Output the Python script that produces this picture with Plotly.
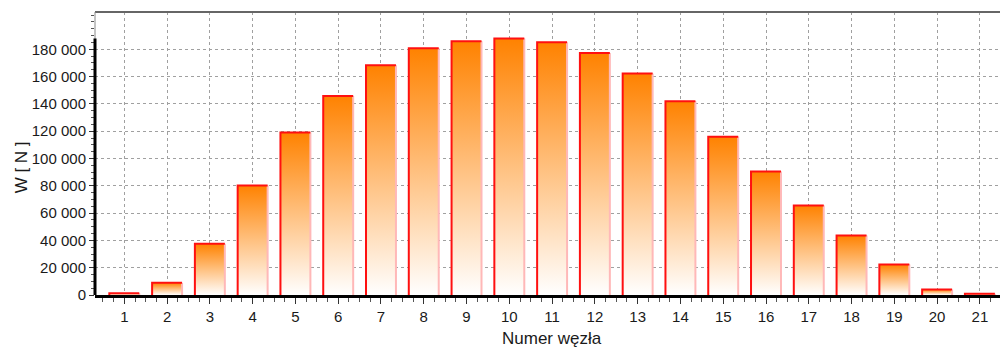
import plotly.graph_objects as go

# Node numbers and vertical load per node
nodes = list(range(1, 22))
loads = [1300, 8900, 37500, 80300, 119100, 145800, 168300, 180700, 185900, 187900,
         185100, 177300, 162200, 141900, 116000, 90500, 65600, 43600, 22400, 4000, 900]

y_ticks = [0, 20000, 40000, 60000, 80000, 100000, 120000, 140000, 160000, 180000]

FONT = "Liberation Sans, Arial, sans-serif"
HALF = 0.35          # half bar width in category units
TOP_COLOR = "#FF8200"
EDGE_RED = "#FF1010"
EDGE_PINK = "#FFB8B8"
TEXT = "#1a1a1a"

fig = go.Figure()

# gradient-filled bar bodies (orange at top fading to white at the base)
for n, v in zip(nodes, loads):
    fig.add_trace(go.Scatter(
        x=[n - HALF, n - HALF, n + HALF, n + HALF, n - HALF],
        y=[0, v, v, 0, 0],
        mode="lines", fill="toself",
        line=dict(width=0),
        fillgradient=dict(type="vertical",
                          colorscale=[[0, "#FFFFFF"], [1, TOP_COLOR]]),
        hoverinfo="skip", showlegend=False,
    ))

# red left/top outlines and pale right edges
red_x, red_y, pink_x, pink_y = [], [], [], []
for n, v in zip(nodes, loads):
    red_x += [n - HALF, n - HALF, n + HALF, None]
    red_y += [0, v, v, None]
    pink_x += [n + HALF, n + HALF, None]
    pink_y += [v, 0, None]

fig.add_trace(go.Scatter(x=pink_x, y=pink_y, mode="lines",
                         line=dict(color=EDGE_PINK, width=2),
                         hoverinfo="skip", showlegend=False))
fig.add_trace(go.Scatter(x=red_x, y=red_y, mode="lines",
                         line=dict(color=EDGE_RED, width=2),
                         hoverinfo="skip", showlegend=False))

# frame: grey top and left border, black value axis up to the largest load
fig.add_shape(type="line", xref="paper", yref="paper", x0=0, x1=1, y0=1, y1=1,
              line=dict(color="#666666", width=2))
fig.add_shape(type="line", xref="paper", yref="paper", x0=0, x1=0, y0=0, y1=1,
              line=dict(color="#888888", width=1))
fig.add_shape(type="line", xref="paper", yref="y", x0=0, x1=0, y0=0, y1=max(loads),
              line=dict(color="#000000", width=3))

# axis titles
fig.add_annotation(text="Numer węzła", xref="paper", yref="paper",
                   x=0.505, y=-0.152, xanchor="center", yanchor="middle",
                   showarrow=False, font=dict(family=FONT, size=17, color=TEXT))
fig.add_annotation(text="W [ N ]", xref="paper", yref="paper",
                   x=-0.081, y=0.45, xanchor="center", yanchor="middle",
                   textangle=-90, showarrow=False,
                   font=dict(family=FONT, size=17, color=TEXT))

fig.update_layout(
    width=1000, height=347,
    margin=dict(l=95, r=0, t=12, b=52),
    paper_bgcolor="white", plot_bgcolor="white",
    font=dict(family=FONT, size=15, color=TEXT),
    hovermode=False,
    showlegend=False,
)

fig.update_xaxes(
    range=[0.315, 21.47],
    tickmode="array", tickvals=nodes, ticktext=[str(n) for n in nodes],
    showgrid=True, gridcolor="#a0a0a0", griddash="dot", gridwidth=1,
    showline=True, linecolor="#000000", linewidth=3,
    ticks="outside", ticklen=6, tickcolor="#333333",
    minor=dict(dtick=0.25, tick0=0, ticks="outside", ticklen=4, tickcolor="#555555", showgrid=False),
    zeroline=False,
    tickfont=dict(family=FONT, size=15, color=TEXT),
)

fig.update_yaxes(
    range=[0, 207300],
    tickmode="array", tickvals=y_ticks, ticktext=[f"{t:,}".replace(",", " ") for t in y_ticks],
    showgrid=True, gridcolor="#a0a0a0", griddash="dot", gridwidth=1,
    showline=False,
    ticks="outside", ticklen=5, tickcolor="#333333",
    minor=dict(dtick=5000, tick0=0, ticks="outside", ticklen=3, tickcolor="#555555", showgrid=False),
    zeroline=False,
    tickfont=dict(family=FONT, size=15, color=TEXT),
)

fig.write_html("out.html")
